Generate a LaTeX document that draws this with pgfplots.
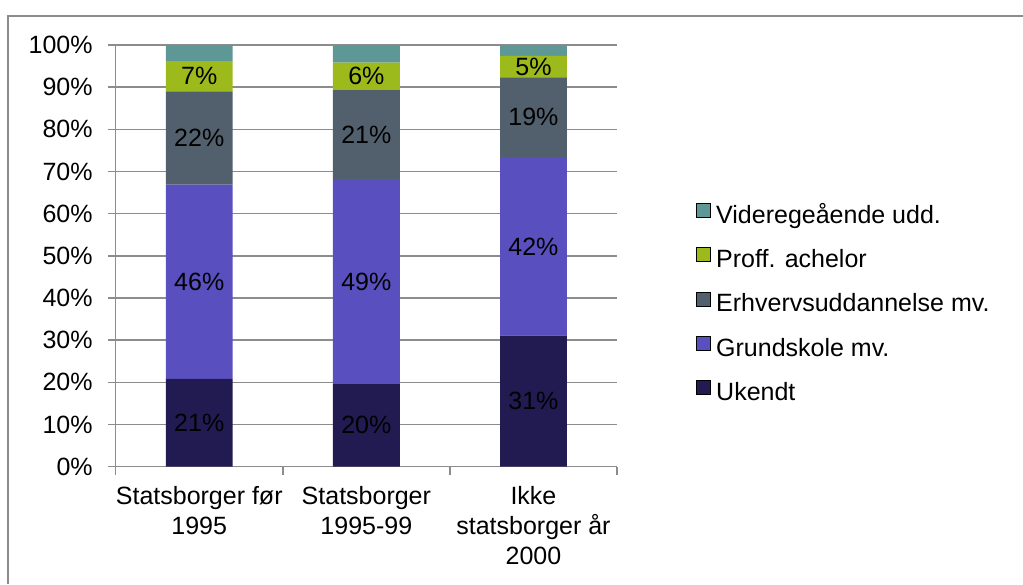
\documentclass[border=0pt]{standalone}
\usepackage{fontspec}
\setmainfont{Liberation Sans}
\usepackage{pgfplots}
\usepackage{pgfplotstable}
\pgfplotsset{compat=1.18}
\definecolor{cUk}{HTML}{221B52}
\definecolor{cGr}{HTML}{5A4FBF}
\definecolor{cEr}{HTML}{52606D}
\definecolor{cPr}{HTML}{9DBA1C}
\definecolor{cVi}{HTML}{5E9896}
\definecolor{cAx}{HTML}{8C8C8C}
\pgfplotstableread{
x Ukendt Grund Erhverv Proff Videre
0 20.8 46.1 22.1 7.2 3.8
1 19.6 48.6 21.2 6.4 4.2
2 31.1 42.3 18.9 5.1 2.6
}\data
\newcommand{\fnt}{\fontsize{12.5}{15}\selectfont}
\pgfplotsset{
  lbl/.style={point meta=explicit,
    nodes near coords={\pgfmathprintnumber[fixed,precision=0]{\pgfplotspointmeta}\%},
    every node near coord/.append style={anchor=center, font=\fnt, text=black}},
}
\begin{document}
\begin{tikzpicture}[font=\fnt]
\path[use as bounding box] (0,0) rectangle (511.5pt,292pt);
\draw[cAx, line width=0.75pt] (4pt,0) -- (4pt,284pt) -- (511.5pt,284pt);
\begin{axis}[
  at={(57.85pt,58.65pt)}, anchor=south west,
  scale only axis, width=250.65pt, height=210.85pt,
  ybar stacked, bar width=0.4,
  xmin=-0.5, xmax=2.5, ymin=0, ymax=100,
  axis x line*=bottom, axis y line*=left,
  axis line style={cAx, line width=0.75pt, -},
  xtick={0,1,2},
  xticklabels={{Statsborger før\\1995},{Statsborger\\1995-99},{Ikke\\statsborger år\\2000}},
  major x tick style={draw=none},
  minor xtick={-0.5,0.5,1.5,2.5},
  ytick={0,10,...,100},
  yticklabel={\pgfmathprintnumber{\tick}\%},
  /pgf/number format/assume math mode=true,
  tick align=outside, major tick length=4pt, minor tick length=4pt,
  tick style={cAx, line width=0.75pt},
  every tick label/.append style={font=\fnt, text=black},
  xticklabel style={align=center, yshift=-2.5pt},
  yticklabel style={xshift=-4pt},
  ymajorgrids, grid style={cAx, line width=0.75pt},
  legend style={at={(1.1576,0.384)}, anchor=west, draw=none, fill=none,
    inner sep=0pt, row sep=9pt, column sep=2.5pt, font=\fnt,
    nodes={inner sep=0pt, text height=9pt, text depth=3pt}},
  legend cell align=left,
  legend image code/.code={\fill[#1] (0pt,0pt) rectangle (7pt,7pt);},
]
\addplot[forget plot, fill=cUk, draw=none, lbl] table[x=x, y=Ukendt, meta=Ukendt] {\data};
\addplot[forget plot, fill=cGr, draw=none, lbl] table[x=x, y=Grund, meta=Grund] {\data};
\addplot[forget plot, fill=cEr, draw=none, lbl] table[x=x, y=Erhverv, meta=Erhverv] {\data};
\addplot[forget plot, fill=cPr, draw=none, lbl] table[x=x, y=Proff, meta=Proff] {\data};
\addplot[forget plot, fill=cVi, draw=none] table[x=x, y=Videre] {\data};
\addlegendimage{fill=cVi}
\addlegendentry{Videregeående udd.}
\addlegendimage{fill=cPr}
\addlegendentry{Proff. achelor}
\addlegendimage{fill=cEr}
\addlegendentry{Erhvervsuddannelse mv.}
\addlegendimage{fill=cGr}
\addlegendentry{Grundskole mv.}
\addlegendimage{fill=cUk}
\addlegendentry{Ukendt}
\end{axis}
\end{tikzpicture}
\end{document}
